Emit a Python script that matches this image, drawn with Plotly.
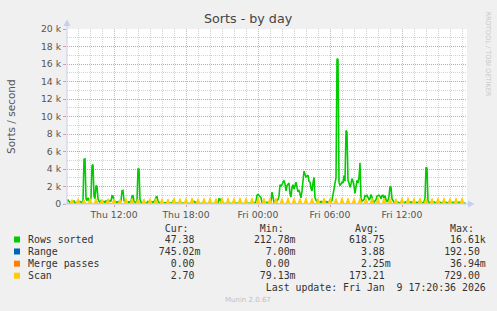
import plotly.graph_objects as go
import pandas as pd

# ---------------- data ----------------
START = "2026-01-08 08:05"      # first 5-minute sample
END = "2026-01-09 17:25"        # right edge of the graph

# Rows sorted (sorts/second), 5-minute samples, one hour per row
rows_sorted = [
    400, 450, 300, 150, 100, 120, 200, 350, 150, 100, 200, 100,
    150, 300, 250, 100, 300, 5100, 5150, 600, 400, 700, 400, 300,
    700, 4400, 4500, 900, 600, 2100, 2000, 600, 300, 200, 350, 250,
    150, 300, 200, 350, 250, 200, 400, 300, 350, 950, 900, 300,
    300, 200, 250, 150, 300, 250, 400, 1500, 1550, 400, 200, 300,
    150, 200, 250, 150, 300, 900, 950, 300, 200, 150, 300, 4000,
    4000, 500, 200, 150, 100, 250, 200, 100, 150, 300, 200, 100,
    150, 250, 200, 300, 400, 800, 850, 300, 100, 50, 100, 80,
    50, 100, 150, 100, 50, 80, 100, 120, 100, 150, 350, 300,
    100, 50, 80, 100, 60, 50, 100, 80, 60, 100, 50, 80,
    100, 60, 50, 80, 100, 60, 80, 300, 250, 100, 50, 80,
    60, 100, 50, 80, 100, 60, 50, 80, 100, 60, 80, 50,
    100, 80, 60, 50, 100, 80, 60, 100, 600, 550, 150, 80,
    60, 100, 50, 80, 60, 100, 80, 50, 100, 60, 80, 100,
    50, 80, 100, 60, 50, 80, 100, 60, 80, 50, 100, 80,
    60, 100, 50, 80, 100, 60, 80, 50, 150, 300, 1000, 1080,
    1000, 900, 700, 150, 100, 200, 100, 150, 200, 100, 150, 200,
    300, 1350, 700, 200, 300, 200, 400, 500, 900, 2200, 2000, 2300,
    2600, 2700, 2300, 1500, 2100, 2300, 2400, 1200, 800, 1900, 2200, 1700,
    2300, 2500, 1900, 1400, 1600, 900, 700, 1500, 2800, 3750, 3400, 3100,
    3200, 3300, 2600, 2500, 1800, 1500, 2400, 3050, 700, 300, 200, 250,
    150, 200, 300, 150, 250, 200, 150, 300, 200, 250, 150, 200,
    250, 400, 1200, 2000, 2500, 3000, 16610, 16500, 2500, 2100, 2300, 2500,
    2400, 3250, 2600, 8400, 8200, 2700, 2400, 1900, 2300, 2900, 2600, 2100,
    1200, 2300, 2700, 2400, 3000, 4700, 700, 300, 400, 500, 950, 900,
    1000, 700, 500, 600, 1080, 800, 300, 200, 400, 500, 900, 950,
    1000, 900, 600, 950, 1000, 700, 950, 500, 300, 400, 900, 2000,
    1900, 600, 300, 200, 150, 250, 100, 200, 150, 100, 250, 150,
    100, 200, 150, 250, 100, 150, 200, 100, 250, 150, 100, 200,
    150, 100, 200, 150, 250, 100, 200, 150, 100, 250, 600, 4200,
    4100, 300, 150, 100, 200, 150, 100, 250, 150, 100, 200, 150,
    100, 200, 150, 100, 250, 150, 100, 200, 150, 100, 200, 150,
    100, 150, 200, 100, 150, 250, 100, 150, 200, 100, 150, 100,
    150, 100, 80, 47.38,
]

# Scan (sorts/second), 5-minute samples, one hour per row
scan = [
    330, 25, 20, 30, 300, 520, 320, 25, 20, 30, 330, 610,
    340, 25, 20, 30, 290, 480, 300, 25, 20, 30, 350, 650,
    360, 25, 20, 30, 330, 600, 340, 25, 20, 30, 310, 540,
    320, 25, 20, 30, 350, 620, 340, 25, 20, 30, 330, 580,
    340, 25, 20, 30, 300, 510, 310, 25, 20, 30, 360, 660,
    360, 25, 20, 30, 350, 640, 330, 25, 20, 30, 320, 560,
    330, 25, 20, 30, 330, 590, 340, 25, 20, 30, 350, 630,
    350, 25, 20, 30, 360, 650, 360, 25, 20, 30, 340, 600,
    340, 25, 20, 30, 320, 560, 320, 25, 20, 30, 370, 680,
    370, 25, 20, 30, 340, 620, 340, 25, 20, 30, 350, 650,
    360, 25, 20, 30, 380, 700, 380, 25, 20, 30, 340, 610,
    340, 25, 20, 30, 360, 660, 360, 25, 20, 30, 370, 690,
    380, 25, 20, 30, 340, 630, 350, 25, 20, 30, 380, 700,
    380, 25, 20, 30, 370, 680, 370, 25, 20, 30, 350, 650,
    360, 25, 20, 30, 390, 710, 390, 25, 20, 30, 360, 670,
    370, 25, 20, 30, 370, 690, 380, 25, 20, 30, 390, 720,
    390, 25, 20, 30, 350, 650, 360, 25, 20, 30, 380, 700,
    380, 25, 20, 30, 370, 680, 370, 25, 20, 30, 350, 640,
    350, 25, 20, 30, 380, 700, 380, 25, 20, 30, 360, 660,
    360, 25, 20, 30, 340, 620, 340, 25, 20, 30, 370, 690,
    380, 25, 20, 30, 360, 660, 360, 25, 20, 30, 350, 640,
    350, 25, 20, 30, 370, 690, 380, 25, 20, 30, 370, 680,
    370, 25, 20, 30, 350, 640, 350, 25, 20, 30, 380, 700,
    380, 25, 20, 30, 360, 670, 370, 25, 20, 30, 350, 650,
    360, 25, 20, 30, 380, 700, 380, 25, 20, 30, 340, 620,
    340, 25, 20, 30, 350, 650, 360, 25, 20, 30, 370, 690,
    380, 25, 20, 30, 370, 680, 370, 25, 20, 30, 350, 640,
    350, 25, 20, 30, 330, 610, 340, 25, 20, 30, 380, 700,
    380, 25, 20, 30, 400, 729, 400, 25, 20, 30, 360, 660,
    360, 25, 20, 30, 370, 690, 380, 25, 20, 30, 350, 640,
    350, 25, 20, 30, 350, 640, 350, 25, 20, 30, 380, 700,
    380, 25, 20, 30, 380, 700, 380, 25, 20, 30, 360, 660,
    360, 25, 20, 30, 360, 670, 370, 25, 20, 30, 370, 690,
    380, 25, 20, 2.70,
]

# Range and Merge passes, hourly readings (tiny at this scale)
range_vals = [2.1, 3.5, 1.2, 0.8, 5.4, 2.2, 1.0, 0.5, 0.3, 0.2, 0.4, 0.1,
              0.3, 0.2, 0.5, 0.3, 1.5, 2.0, 6.8, 9.5, 12.0, 16.0, 15.2, 8.0,
              4.1, 3.2, 2.0, 1.1, 0.9, 0.7, 1.4, 0.8, 0.6, 0.745]
merge_vals = [0, 0, 0, 0, 0, 0, 0, 0, 0, 0, 0, 0,
              0, 0, 0, 0, 0, 0, 0.037, 0, 0, 0, 0, 0,
              0, 0, 0, 0, 0, 0, 0, 0, 0, 0]

y_tickvals = [0, 2000, 4000, 6000, 8000, 10000, 12000, 14000, 16000, 18000, 20000]
y_ticktext = ["0", "2 k", "4 k", "6 k", "8 k", "10 k", "12 k", "14 k", "16 k", "18 k", "20 k"]
y_minor = [1000, 3000, 5000, 7000, 9000, 11000, 13000, 15000, 17000, 19000]

series_names = ["Rows sorted", "Range", "Merge passes", "Scan"]
series_colors = ["#00CC00", "#0066B3", "#FF8000", "#FFCC00"]
cur_vals = ["47.38 ", "745.02m", "0.00 ", "2.70 "]
min_vals = ["212.78m", "7.00m", "0.00 ", "79.13m"]
avg_vals = ["618.75 ", "3.88 ", "2.25m", "173.21 "]
max_vals = ["16.61k", "192.50 ", "36.94m", "729.00 "]

TITLE = "Sorts - by day"
Y_TITLE = "Sorts / second"
LAST_UPDATE = "Last update: Fri Jan  9 17:20:36 2026"
FOOTER = "Munin 2.0.67"
WATERMARK = "RRDTOOL / TOBI OETIKER"

# ---------------- figure ----------------
W, H = 497, 311
L, R, T, B = 67, 30, 29, 107
PW, PH = W - L - R, H - T - B


def px(x):
    return (x - L) / PW


def py(y):
    return (H - B - y) / PH


t5 = pd.date_range(START, periods=len(rows_sorted), freq="5min")
t_hour = pd.date_range(START, periods=len(range_vals), freq="h")

# hourly minor grid positions, skipping the 6-hourly major ones
hours = pd.date_range("2026-01-08 09:00", "2026-01-09 17:00", freq="h")
x_minor = [h for h in hours if h.hour % 6 != 0]
x_major = [h for h in hours if h.hour % 6 == 0]

fig = go.Figure()
fig.add_trace(go.Scatter(x=t5, y=rows_sorted, mode="lines",
                         line=dict(color=series_colors[0], width=1.6),
                         name=series_names[0]))
fig.add_trace(go.Scatter(x=t_hour, y=range_vals, mode="lines",
                         line=dict(color=series_colors[1], width=1),
                         name=series_names[1]))
fig.add_trace(go.Scatter(x=t_hour, y=merge_vals, mode="lines",
                         line=dict(color=series_colors[2], width=1),
                         name=series_names[2]))
fig.add_trace(go.Scatter(x=t5, y=scan, mode="lines",
                         line=dict(color=series_colors[3], width=1),
                         fill="tozeroy", fillcolor=series_colors[3],
                         name=series_names[3]))

MAJ = "#E09A9A"
MAJX = "#E8B0B0"
MIN = "#D2D2D2"
DASH = "1px,1px"
TICKFONT = dict(family="DejaVu Sans", size=9.3, color="#555555")

fig.update_layout(
    width=W, height=H,
    margin=dict(l=L, r=R, t=T, b=B, pad=0),
    paper_bgcolor="#F0F0F0", plot_bgcolor="#FFFFFF",
    showlegend=False,
    xaxis=dict(type="date", range=[START, END], showgrid=True,
               gridcolor=MAJX, griddash=DASH, gridwidth=1,
               tickmode="array", tickvals=x_major,
               tickformat="%a %H:%M", tickfont=TICKFONT,
               ticks="outside", ticklen=2, tickcolor=MAJ,
               showline=False, zeroline=False,
               minor=dict(tickmode="array", tickvals=x_minor,
                          showgrid=True, gridcolor=MIN, griddash=DASH,
                          gridwidth=1)),
    yaxis=dict(range=[0, 20000], tickmode="array", tickvals=y_tickvals,
               ticktext=y_ticktext, tickfont=TICKFONT, showgrid=True,
               gridcolor=MAJ, griddash=DASH, gridwidth=1,
               ticks="outside", ticklen=3, tickcolor=MAJ,
               showline=False, zeroline=False,
               minor=dict(tickmode="array", tickvals=y_minor, showgrid=True,
                          gridcolor=MIN, griddash=DASH, gridwidth=1)),
)

AXC = "#C9CDF0"
shapes = [
    dict(type="line", xref="paper", yref="paper", x0=px(67), x1=px(67),
         y0=py(204), y1=py(23), line=dict(color=AXC, width=1)),
    dict(type="line", xref="paper", yref="paper", x0=px(64), x1=px(470),
         y0=py(204), y1=py(204), line=dict(color=AXC, width=1)),
    dict(type="path", xref="paper", yref="paper",
         path=f"M {px(63.5)} {py(26)} L {px(70.5)} {py(26)} L {px(67)} {py(19.5)} Z",
         fillcolor=AXC, line=dict(color=AXC, width=0)),
    dict(type="path", xref="paper", yref="paper",
         path=f"M {px(468)} {py(200.5)} L {px(468)} {py(207.5)} L {px(474.5)} {py(204)} Z",
         fillcolor=AXC, line=dict(color=AXC, width=0)),
]

row_y = [239.5, 251.5, 263.7, 275.7]
for yc, col in zip(row_y, series_colors):
    shapes.append(dict(type="rect", xref="paper", yref="paper",
                       x0=px(14), x1=px(20), y0=py(yc + 3), y1=py(yc - 3),
                       fillcolor=col, line=dict(width=0)))
fig.update_layout(shapes=shapes)

MONO = dict(family="DejaVu Sans Mono", size=9.9, color="#333333")
NB = "\u00a0"


def mono(s):
    return s.replace(" ", NB)


ann = []
header = " " * 23 + "Cur:" + " " * 12 + "Min:" + " " * 12 + "Avg:" + " " * 12 + "Max:"
ann.append(dict(text=mono(header), x=px(26), y=py(228.3)))
for name, c, mn, av, mx, yc in zip(series_names, cur_vals, min_vals, avg_vals, max_vals, row_y):
    line = f"{name:<22}{c:>7}{'':9}{mn:>7}{'':9}{av:>7}{'':9}{mx:>7}"
    ann.append(dict(text=mono(line), x=px(26), y=py(yc)))
ann.append(dict(text=mono(" " * 40 + LAST_UPDATE), x=px(26), y=py(287.5)))
for a in ann:
    a.update(xref="paper", yref="paper", xanchor="left", yanchor="middle",
             showarrow=False, font=MONO)

ann += [
    dict(text=TITLE, x=px(248.5), y=py(19), xref="paper", yref="paper",
         xanchor="center", yanchor="middle", showarrow=False,
         font=dict(family="DejaVu Sans", size=12.7, color="#444444")),
    dict(text=Y_TITLE, x=px(11), y=py(116), xref="paper", yref="paper",
         xanchor="center", yanchor="middle", showarrow=False, textangle=-90,
         font=dict(family="DejaVu Sans", size=10.5, color="#555555")),
    dict(text=WATERMARK, x=px(488), y=py(53.5), xref="paper", yref="paper",
         xanchor="center", yanchor="middle", showarrow=False, textangle=90,
         font=dict(family="DejaVu Sans", size=6.6, color="#C8C8C8")),
    dict(text=FOOTER, x=px(248), y=py(300), xref="paper", yref="paper",
         xanchor="center", yanchor="middle", showarrow=False,
         font=dict(family="DejaVu Sans", size=7, color="#C0C0C0")),
]
fig.update_layout(annotations=ann)

fig.write_html("out.html")
